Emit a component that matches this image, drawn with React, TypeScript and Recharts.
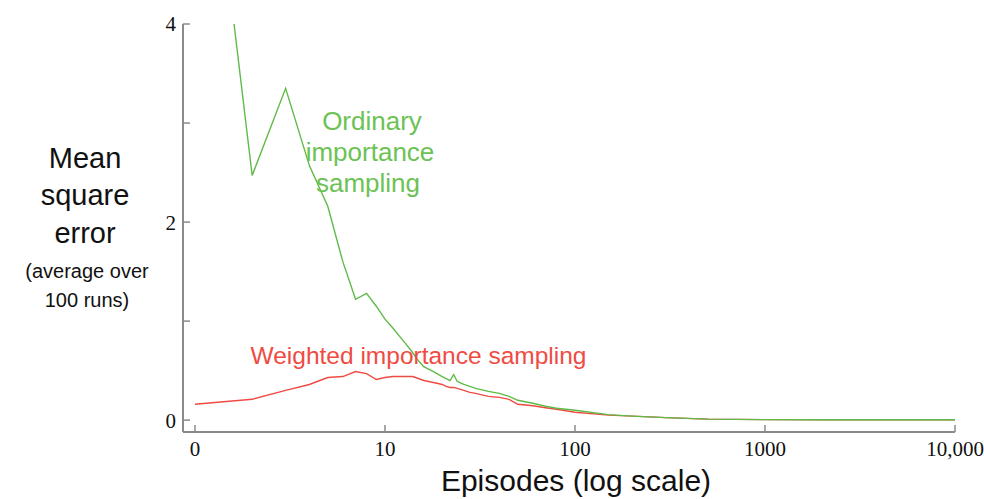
import { Line, LineChart, XAxis, YAxis } from "recharts"

// episode numbers the curves were read at (log x axis)
const episodes = [
  1, 2, 3, 4, 5, 6, 7, 8, 9, 10, 11, 12, 13, 14, 15, 16, 18, 20, 21, 22, 23, 24, 26, 28, 30,
  35, 40, 45, 50, 60, 70, 80, 100, 150, 200, 300, 500, 1000, 2000, 5000, 10000,
]
const ordinary = [
  7.3, 2.47, 3.35, 2.57, 2.16, 1.6, 1.22, 1.28, 1.15, 1.02, 0.93, 0.84, 0.76, 0.68, 0.6, 0.54,
  0.49, 0.44, 0.42, 0.4, 0.46, 0.39, 0.36, 0.34, 0.32, 0.29, 0.27, 0.24, 0.2, 0.17, 0.14, 0.12,
  0.1, 0.055, 0.04, 0.025, 0.01, 0.005, 0.003, 0.003, 0.003,
]
const weighted = [
  0.16, 0.21, 0.3, 0.36, 0.43, 0.44, 0.49, 0.47, 0.41, 0.43, 0.44, 0.44, 0.44, 0.44, 0.42, 0.4,
  0.38, 0.36, 0.34, 0.33, 0.33, 0.32, 0.3, 0.28, 0.27, 0.24, 0.23, 0.21, 0.16, 0.145, 0.125,
  0.11, 0.08, 0.05, 0.04, 0.025, 0.01, 0.005, 0.003, 0.003, 0.003,
]
const xTicks = [1, 10, 100, 1000, 10000]
const xTickLabels = ["0", "10", "100", "1000", "10,000"]
const yTicks = [0, 1, 2, 3, 4]

const data = episodes.map((ep, i) => ({ ep, ordinary: ordinary[i], weighted: weighted[i] }))

const GREEN = "#5fbb47"
const RED = "#ef4b43"
const AXIS = "#8a8a8a"
const sans = "'Liberation Sans', Arial, sans-serif"
const serif = "'Liberation Serif', 'Times New Roman', serif"

export default function App() {
  return (
    <div style={{ position: "absolute", left: 0, top: 0, width: 984, height: 499, background: "#fff" }}>
      <LineChart width={984} height={499} data={data} margin={{ top: 24, right: 29, left: 0, bottom: 0 }}>
        <XAxis
          dataKey="ep"
          type="number"
          scale="log"
          domain={[0.865, 10000]}
          allowDataOverflow
          ticks={xTicks}
          tickFormatter={(v: number) => xTickLabels[xTicks.indexOf(v)] ?? ""}
          height={67}
          tickSize={-7}
          tickMargin={16}
          axisLine={{ stroke: AXIS, strokeWidth: 2 }}
          tickLine={{ stroke: AXIS, strokeWidth: 1.5 }}
          tick={{ fill: "#111", fontSize: 21, fontFamily: serif }}
        />
        <YAxis
          type="number"
          domain={[-0.12, 4]}
          allowDataOverflow
          ticks={yTicks}
          tickFormatter={(v: number) => (v % 2 === 0 ? String(v) : "")}
          width={183}
          tickSize={-7}
          tickMargin={14}
          axisLine={{ stroke: AXIS, strokeWidth: 2 }}
          tickLine={{ stroke: AXIS, strokeWidth: 1.5 }}
          tick={{ fill: "#111", fontSize: 21, fontFamily: serif }}
        />
        <Line
          type="linear"
          dataKey="weighted"
          stroke={RED}
          strokeWidth={1.4}
          dot={false}
          isAnimationActive={false}
        />
        <Line
          type="linear"
          dataKey="ordinary"
          stroke={GREEN}
          strokeWidth={1.4}
          dot={false}
          isAnimationActive={false}
        />
      </LineChart>
      <svg
        width={984}
        height={499}
        style={{ position: "absolute", left: 0, top: 0, pointerEvents: "none" }}
      >
        <g fontFamily={sans} textAnchor="middle" fill="#111">
          <text x={85} y={168} fontSize={29}>Mean</text>
          <text x={85} y={205} fontSize={29}>square</text>
          <text x={85} y={243} fontSize={29}>error</text>
          <text x={87} y={278} fontSize={20}>(average over</text>
          <text x={87} y={307} fontSize={20}>100 runs)</text>
          <text x={576} y={491} fontSize={30}>Episodes (log scale)</text>
        </g>
        <g fontFamily={sans} textAnchor="middle" fill="#6cc254" fontSize={26}>
          <text x={372} y={130}>Ordinary</text>
          <text x={370} y={161}>importance</text>
          <text x={368} y={192}>sampling</text>
        </g>
        <text x={418.5} y={364} fontFamily={sans} textAnchor="middle" fill={RED} fontSize={24.5}>
          Weighted importance sampling
        </text>
      </svg>
    </div>
  )
}
